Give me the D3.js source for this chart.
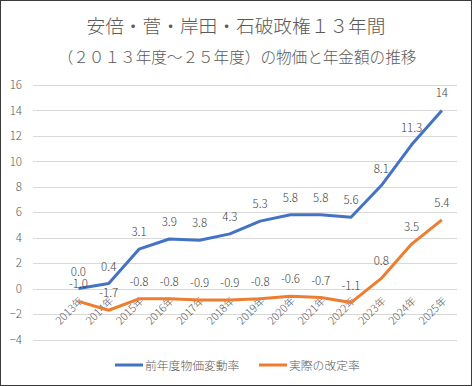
<!DOCTYPE html>
<html>
<head>
<meta charset="utf-8">
<script src="https://cdn.jsdelivr.net/npm/d3@7"></script>
<style>
  body { margin: 0; background: #fff; }
  text { font-family: "Noto Sans CJK JP", "Noto Sans", sans-serif; font-weight: 300; }
</style>
</head>
<body>
<div id="chart"></div>
<script>
// data
var years = ["2013年","2014年","2015年","2016年","2017年","2018年","2019年",
             "2020年","2021年","2022年","2023年","2024年","2025年"];
var priceRate = [0.0, 0.4, 3.1, 3.9, 3.8, 4.3, 5.3, 5.8, 5.8, 5.6, 8.1, 11.3, 14];
var priceLabels = ["0.0","0.4","3.1","3.9","3.8","4.3","5.3","5.8","5.8","5.6","8.1","11.3","14"];
var revisionRate = [-1.0, -1.7, -0.8, -0.8, -0.9, -0.9, -0.8, -0.6, -0.7, -1.1, 0.8, 3.5, 5.4];
var revisionLabels = ["-1.0","-1.7","-0.8","-0.8","-0.9","-0.9","-0.8","-0.6","-0.7","-1.1","0.8","3.5","5.4"];
var yTicks = [-4, -2, 0, 2, 4, 6, 8, 10, 12, 14, 16];
var seriesNames = ["前年度物価変動率", "実際の改定率"];
var colors = ["#4472c4", "#ed7d31"];

var W = 472, H = 386;
var plot = {left: 33, right: 457, top: 85, bottom: 339.5};

var svg = d3.select("#chart").append("svg")
  .attr("width", W)
  .attr("height", H);

svg.append("rect")
  .attr("x", 0.5).attr("y", 0.5)
  .attr("width", W - 1).attr("height", H - 1)
  .attr("fill", "#fff")
  .attr("stroke", "#3a3a3a");

// title
svg.append("text")
  .attr("x", 236).attr("y", 33)
  .attr("text-anchor", "middle")
  .style("font-size", "18.7px")
  .attr("fill", "#595959")
  .text("安倍・菅・岸田・石破政権１３年間");
svg.append("text")
  .attr("x", 237).attr("y", 63)
  .attr("text-anchor", "middle")
  .style("font-size", "15.6px")
  .attr("fill", "#595959")
  .text("（２０１３年度～２５年度）の物価と年金額の推移");

// scales (first band left empty, as in the original)
var x = d3.scaleBand()
  .domain([""].concat(years))
  .range([plot.left, plot.right]);
var cx = function(d) { return x(d) + x.bandwidth() / 2; };

var y = d3.scaleLinear()
  .domain([-4, 16])
  .range([plot.bottom, plot.top]);

// gridlines
svg.append("g")
  .selectAll("line")
  .data(yTicks)
  .enter().append("line")
    .attr("x1", plot.left).attr("x2", plot.right)
    .attr("y1", function(d) { return Math.round(y(d)) + 0.5; })
    .attr("y2", function(d) { return Math.round(y(d)) + 0.5; })
    .attr("stroke", "#d9d9d9");

// y axis labels
var yAxis = svg.append("g")
  .attr("transform", "translate(" + plot.left + ",0)")
  .call(d3.axisLeft(y).tickValues(yTicks).tickSize(0).tickPadding(11));
yAxis.select(".domain").remove();
yAxis.selectAll("text")
  .style("font-size", "11.5px")
  .style("font-family", "\"Noto Sans CJK JP\", sans-serif")
  .style("font-weight", 300)
  .attr("fill", "#595959");

// x labels, rotated, hanging from the zero line
svg.append("g")
  .selectAll("text")
  .data(years)
  .enter().append("text")
    .attr("transform", function(d) {
      return "translate(" + (cx(d) + 3) + "," + (y(0) + 10) + ") rotate(-45)";
    })
    .attr("text-anchor", "end")
    .attr("dy", "0.35em")
    .style("font-size", "10.8px")
    .attr("fill", "#595959")
    .text(function(d) { return d; });

var line = d3.line()
  .x(function(d, i) { return cx(years[i]); })
  .y(function(d) { return y(d); });

var series = [
  {values: priceRate, labels: priceLabels},
  {values: revisionRate, labels: revisionLabels}
];

series.forEach(function(s, k) {
  svg.append("path")
    .datum(s.values)
    .attr("d", line)
    .attr("fill", "none")
    .attr("stroke", colors[k])
    .attr("stroke-width", 3)
    .attr("stroke-linejoin", "round");
});

series.forEach(function(s, k) {
  svg.append("g")
    .selectAll("text")
    .data(s.values)
    .enter().append("text")
      .attr("x", function(d, i) { return cx(years[i]); })
      .attr("y", function(d) { return y(d) - 13; })
      .attr("text-anchor", "middle")
      .style("font-size", "11.5px")
      .attr("fill", "#404040")
      .text(function(d, i) { return s.labels[i]; });
});

// legend
var legend = svg.append("g");
var legendX = [115, 259];
seriesNames.forEach(function(name, k) {
  legend.append("line")
    .attr("x1", legendX[k]).attr("x2", legendX[k] + 28)
    .attr("y1", 365).attr("y2", 365)
    .attr("stroke", colors[k])
    .attr("stroke-width", 3);
  legend.append("text")
    .attr("x", legendX[k] + 30).attr("y", 369.5)
    .style("font-size", "11.8px")
    .attr("fill", "#595959")
    .text(name);
});
</script>
</body>
</html>
